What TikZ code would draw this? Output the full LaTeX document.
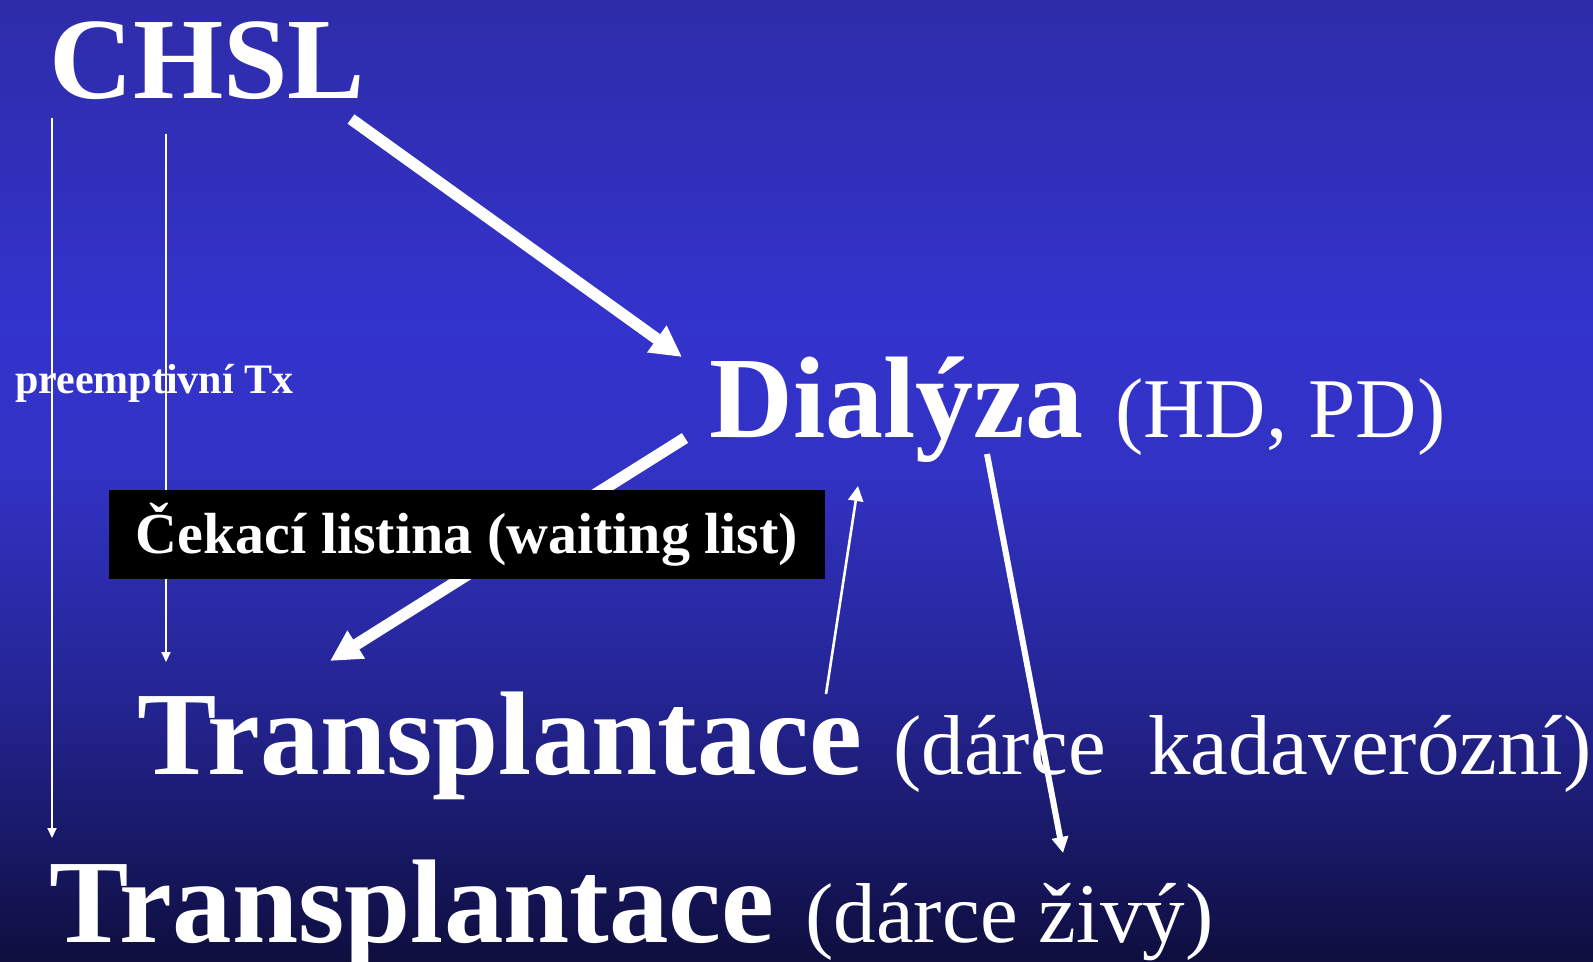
\documentclass[tikz,border=0pt]{standalone}
\usepackage{fontspec}
\setmainfont{Liberation Serif}
\usetikzlibrary{arrows.meta}

\definecolor{bgtop}{RGB}{46,44,168}
\definecolor{bglight}{RGB}{51,51,205}
\definecolor{bgmid}{RGB}{50,50,196}
\definecolor{bgdeep}{RGB}{36,36,146}
\definecolor{bglow}{RGB}{21,21,90}
\definecolor{bgbot}{RGB}{15,14,62}
% tikz fits the path into the middle half (25bp to 75bp)
\pgfdeclareverticalshading{slidebg}{100bp}{color(0bp)=(bgbot); color(25bp)=(bgbot);
  color(29.25bp)=(bglow); color(38.5bp)=(bgdeep); color(50.5bp)=(bgmid);
  color(58bp)=(bglight); color(75bp)=(bgtop); color(100bp)=(bgtop)}

\newcommand{\bigword}{\fontsize{58pt}{60pt}\selectfont\bfseries}
\newcommand{\txword}{\fontsize{59.5pt}{62pt}\selectfont\bfseries}
\newcommand{\subword}{\fontsize{42.5pt}{45pt}\selectfont\mdseries}

\begin{document}
\begin{tikzpicture}
[x=0.5pt,y=-0.5pt,every node/.style={text=white,inner sep=0pt,anchor=base west},
 fat/.style={white,line width=5.8pt,-{Triangle[length=15.5pt,width=15.5pt]}},
 slim/.style={white,line width=1pt,-{Triangle[length=5pt,width=4.5pt]}},
 medium/.style={white,line width=1.3pt,-{Triangle[length=7.5pt,width=7.5pt]}},
 stout/.style={white,line width=3pt,-{Triangle[length=8pt,width=8pt]}}]
\useasboundingbox (0,0) rectangle (1593,962);
\shade[shading=slidebg] (0,0) rectangle (1593,962);
\node (chsl) at (49,99) {\bigword CHSL};
\node (dial) at (709,437) {\bigword Dialýza\hspace{16pt}\subword (HD, PD)};
\node (tx1) at (137,774) {\txword Transplantace\hspace{15.5pt}\subword (dárce~ kadaverózní)};
\node (tx2) at (49,942) {\txword Transplantace\hspace{15.5pt}\subword (dárce živý)};
\node (preempt) at (15,393) {\fontsize{21pt}{23pt}\selectfont\bfseries preemptivní Tx};
\draw[fat] ([shift={(302,20)}]chsl.base west) -- ([shift={(-27,-80)}]dial.base west);
\draw[fat] ([shift={(-24,1)}]dial.base west) -- ([shift={(193,-113)}]tx1.base west);
\draw[slim] ([shift={(3,19)}]chsl.base west) -- ([shift={(3,-104)}]tx2.base west);
\draw[slim] ([shift={(117,35)}]chsl.base west) -- ([shift={(29,-112)}]tx1.base west);
\node (wlist) [fill=black,anchor=center,minimum width=358pt,minimum height=44.5pt]
  at (467,534.5) {\fontsize{29pt}{31pt}\selectfont\bfseries Čekací listina (waiting list)};
\draw[medium] ([shift={(689,-80)}]tx1.base west) -- ([shift={(149,49)}]dial.base west);
\draw[stout] ([shift={(278,17)}]dial.base west) -- ([shift={(1014,-89)}]tx2.base west);
\end{tikzpicture}
\end{document}
